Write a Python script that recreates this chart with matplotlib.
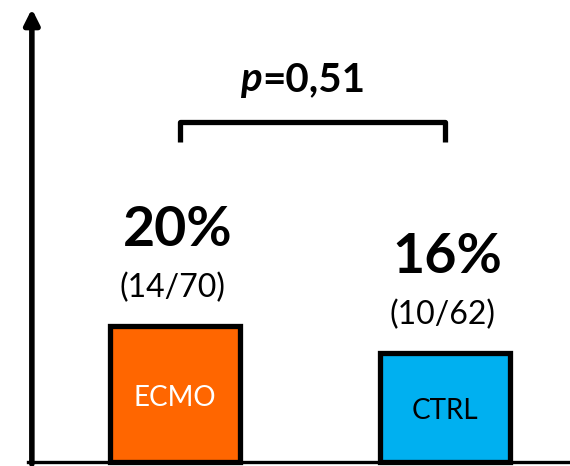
import matplotlib
matplotlib.use("Agg")
import matplotlib.pyplot as plt

plt.rcParams['font.family'] = ['Lato', 'DejaVu Sans']

groups = ["ECMO", "CTRL"]
rates = [20, 16]
counts = ["(14/70)", "(10/62)"]
colors = ["#FF6600", "#00B0F0"]
label_colors = ["white", "black"]
p_text = "=0,51"

fig = plt.figure(figsize=(5.7, 4.66), dpi=100)
ax = fig.add_axes([0, 0, 1, 1])
ax.set_xlim(-0.648, 1.463)
ax.set_ylim(-0.59, 67.9)
ax.axis('off')

x = list(range(len(groups)))
ax.bar(x, rates, width=0.48, color=colors, edgecolor='black', linewidth=3.8, zorder=3)

for xi, r, c, g, lc in zip(x, rates, counts, groups, label_colors):
    ax.text(xi + 0.01, r + 11.8, f"{r}%", ha='center', va='baseline',
            fontsize=40, fontweight='bold')
    ax.text(xi - 0.01, r + 5.6, c, ha='center', va='center', fontsize=23)
    ax.text(xi, r * 0.47, g, ha='center', va='center', fontsize=20, color=lc, zorder=4)

# axes
ax.plot([-0.545, 1.463], [0, 0], color='black', lw=2.4, zorder=5, clip_on=False)
ax.annotate("", xy=(-0.53, 66.6), xytext=(-0.53, -0.3),
            arrowprops=dict(arrowstyle='-|>,head_length=0.9,head_width=0.45',
                            lw=4, color='black', shrinkA=0, shrinkB=0))

# significance bracket
ax.plot([0.02, 0.02, 1.0, 1.0], [47.1, 50, 50, 47.1], color='black', lw=3.8,
        solid_joinstyle='round', solid_capstyle='butt')
ax.text(0.322, 56.2, "p", ha='right', va='center', fontsize=29,
        fontweight='bold', style='italic')
ax.text(0.322, 56.2, p_text, ha='left', va='center', fontsize=29, fontweight='bold')

fig.savefig("out.png", dpi=100)
